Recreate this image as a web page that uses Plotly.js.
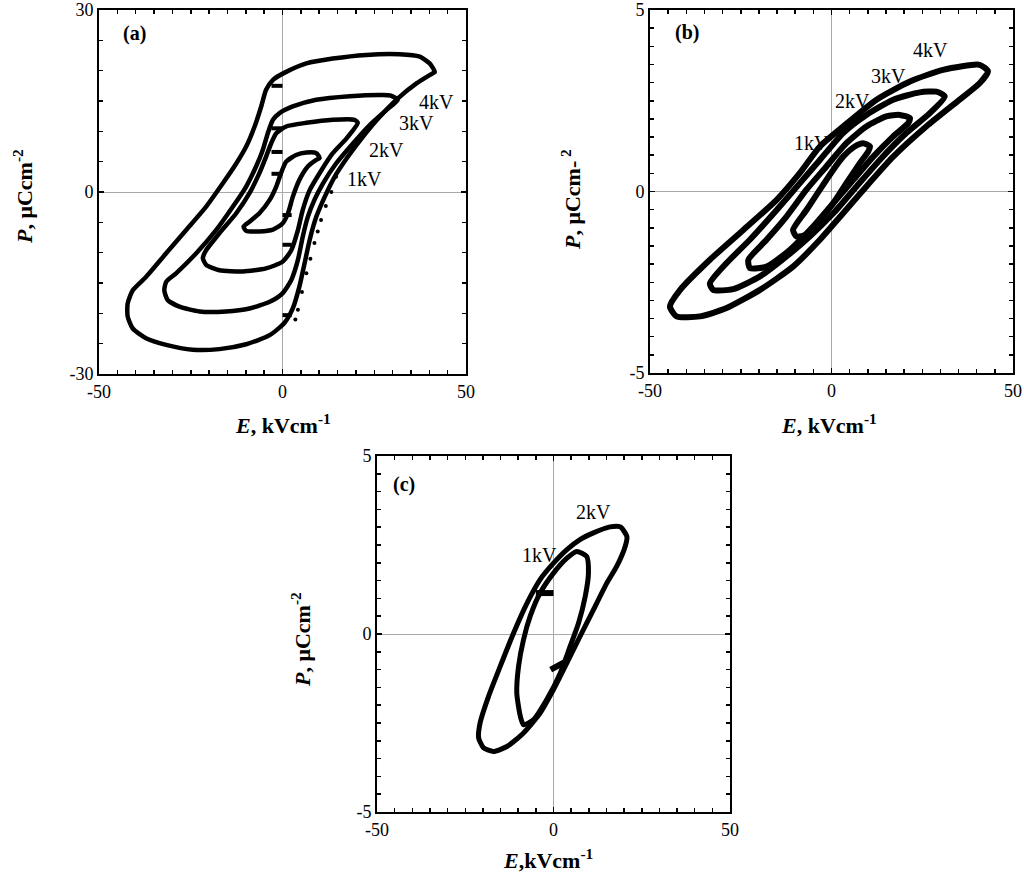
<!DOCTYPE html>
<html>
<head>
<meta charset="utf-8">
<script src="https://cdn.plot.ly/plotly-3.0.1.min.js"></script>
<style>html,body{margin:0;padding:0;background:#fff;}#chart{width:1024px;height:876px;}</style>
</head>
<body>
<div id="chart"></div>
<script>
// ---------- Panel (a) data: E (kV/cm), P (uC/cm^2) ----------
const a4E = [41.5,40.1,37.4,31.9,22.8,13.7,6.5,1.0,-2.6,-4.5,-5.8,-7.6,-9.9,-12.6,-16.3,-20.8,-26.3,-31.7,-37.2,-40.8,-42.2,-42.2,-40.8,-37.2,-31.7,-24.5,-17.2,-9.9,-3.5,0.5,2.8,4.6,6.0,7.4,9.2,11.5,14.2,17.8,21.9,26.5,31.0,36.5,41.0,41.5];
const a4P = [19.8,21.2,22.3,22.7,22.6,22.0,21.2,19.8,18.5,16.8,14.1,10.8,7.5,4.7,1.4,-2.4,-6.3,-10.1,-14.0,-16.2,-18.4,-20.5,-22.5,-24.1,-25.2,-26.0,-25.9,-25.1,-23.6,-21.6,-19.2,-15.6,-11.8,-7.9,-4.1,-0.8,2.5,5.8,9.1,12.4,15.2,17.9,19.6,19.8];
const a3E = [31.4,29.5,27.4,18.3,9.2,2.8,-0.8,-2.6,-4.0,-5.4,-7.2,-9.9,-13.5,-18.1,-23.5,-29.0,-31.7,-32.2,-31.3,-28.1,-22.6,-15.4,-9.0,-3.5,0,2.4,4.2,5.5,6.9,8.7,11.0,14.6,19.2,23.7,28.3,31.4];
const a3P = [15.2,15.9,16.0,15.8,15.2,14.1,13.0,11.9,9.7,6.9,4.2,0.9,-2.4,-6.3,-10.1,-13.4,-14.8,-16.2,-17.8,-18.9,-19.7,-19.7,-19.2,-18.1,-16.7,-14.5,-11.2,-7.4,-4.1,-1.3,1.4,4.7,8.0,11.0,13.5,15.2];
const a2E = [20.5,19.6,13.7,6.5,1.0,-1.7,-3.1,-4.5,-6.3,-9.0,-12.6,-17.2,-20.8,-21.7,-20.8,-17.2,-10.8,-4.5,0,2.4,4.2,5.5,7.4,10.1,13.7,17.4,20.5];
const a2P = [11.4,11.9,11.9,11.4,10.8,9.7,8.0,5.8,3.1,-0.2,-3.5,-6.8,-9.6,-10.9,-12.0,-12.9,-13.1,-12.6,-11.5,-9.6,-6.3,-3.0,0.3,3.1,6.4,8.8,11.4];
const a1E = [10.1,9.2,6.5,3.7,1.0,-0.4,-1.7,-3.5,-6.3,-9.0,-10.6,-9.9,-6.3,-2.6,0,1.5,2.8,4.6,6.9,9.2,10.1];
const a1P = [5.6,6.4,6.5,6.1,5.0,3.1,0.9,-1.3,-3.5,-4.9,-5.7,-6.4,-6.5,-6.2,-5.2,-3.5,-0.8,2.0,4.2,5.3,5.6];
// sparse dotted branch (first ascending sweep)
const aDotE = [3.5,4.2,5.3,6.5,7.6,8.7,9.6,10.5,11.8,13.3,14.6];
const aDotP = [-21.0,-19.4,-16.5,-13.4,-11.0,-8.4,-6.5,-4.6,-2.3,0.0,2.5];
// short start segments at E = 0
const aStubUpperE = [-3.0, 0];
const aStubUpperP = [17.5, 10.5, 6.6, 3.0];
const aStubLowerE = [0, 2.5];
const aStubLowerP = [-3.8, -8.7, -20.3];

// ---------- Panel (b) data ----------
const b4E = [43.1,40.8,30.7,21.6,12.4,3.2,-3.2,-8.7,-15.1,-24.3,-33.5,-41.7,-44.5,-42.7,-36.2,-28.9,-19.7,-10.6,-3.2,3.2,9.6,17.0,26.1,35.3,40.8,43.1];
const b4P = [3.31,3.49,3.35,3.03,2.53,1.79,1.24,0.51,-0.23,-1.06,-1.88,-2.71,-3.17,-3.44,-3.44,-3.21,-2.71,-2.07,-1.33,-0.60,0.14,0.96,1.79,2.53,2.98,3.31];
const b3E = [31.2,28.9,24.3,17.0,9.6,3.2,-3.2,-8.7,-15.1,-22.5,-28.9,-33.5,-32.6,-27.1,-19.7,-12.4,-6.0,0.5,6.9,13.3,20.6,27.1,31.2];
const b3P = [2.62,2.75,2.73,2.53,2.11,1.61,0.87,0.23,-0.51,-1.33,-1.97,-2.53,-2.71,-2.69,-2.34,-1.79,-1.24,-0.60,0.14,0.87,1.61,2.16,2.62];
const b2E = [21.6,18.8,15.1,9.6,4.1,-1.4,-6.9,-12.4,-17.9,-22.9,-22.5,-17.9,-11.5,-5.0,0.5,6.0,11.5,17.0,21.1,21.6];
const b2P = [2.02,2.11,2.07,1.79,1.33,0.69,0.05,-0.69,-1.33,-1.88,-2.11,-2.07,-1.61,-0.96,-0.32,0.32,0.96,1.52,1.88,2.02];
const b1E = [10.6,8.7,6.4,3.2,0.5,-3.2,-6.9,-10.6,-9.6,-6.9,-3.2,0.5,4.1,7.8,10.1,10.6];
const b1P = [1.24,1.33,1.24,0.96,0.60,0.05,-0.51,-1.06,-1.24,-1.19,-0.78,-0.32,0.23,0.78,1.10,1.24];

// ---------- Panel (c) data ----------
const c2E = [20.8,18.9,16.0,11.3,7.5,3.8,0,-3.8,-7.5,-11.3,-15.1,-18.4,-20.8,-21.2,-19.8,-17.0,-13.2,-8.5,-3.8,0,3.8,7.5,11.3,15.1,17.9,20.3,20.8];
const c2P = [2.74,3.01,3.01,2.84,2.65,2.37,1.99,1.53,0.87,0.03,-0.91,-1.75,-2.50,-2.92,-3.20,-3.30,-3.16,-2.78,-2.22,-1.56,-0.81,-0.07,0.68,1.43,1.90,2.46,2.74];
const c1E = [6.6,9.4,9.9,9.0,7.1,4.7,1.9,-1.9,-5.7,-8.5,-9.4,-10.4,-9.9,-8.5,-6.6,-3.8,0,3.8,6.6];
const c1P = [2.32,2.18,1.71,1.06,0.31,-0.35,-1.10,-1.84,-2.41,-2.55,-2.31,-1.66,-0.91,-0.16,0.50,1.15,1.71,2.13,2.32];
const cStub1E = [-5.0, 0];
const cStub1P = [1.15, 1.15];
const cStub2E = [-0.8, 3.0];
const cStub2P = [-1.0, -0.8];

// ---------- Ticks ----------
const xTickVals = [-50, 0, 50];
const xTickText = ['-50', '0', '50'];
const xMinorStep = 5;
const yTickValsA = [-30, 0, 30];
const yTickTextA = ['-30', '0', '30'];
const yMinorStepA = 5;
const yTickValsBC = [-5, 0, 5];
const yTickTextBC = ['-5', '0', '5'];
const yMinorStepBC = 0.5;

// ---------- Curve labels ----------
const aLabels = ['4kV','3kV','2kV','1kV'];
const aLabelE = [42.0, 36.6, 28.4, 22.4];
const aLabelP = [14.8, 11.4, 6.9, 2.2];
const bLabels = ['4kV','3kV','2kV','1kV'];
const bLabelE = [27.2, 15.6, 5.9, -5.4];
const bLabelP = [3.90, 3.18, 2.48, 1.34];
const cLabels = ['2kV','1kV'];
const cLabelE = [11.2, -4.0];
const cLabelP = [3.42, 2.22];

const FONT = 'Liberation Serif';

const traces = [];
function loop(x, y, ax, w){
  traces.push({x:x, y:y, xaxis:'x'+ax, yaxis:'y'+ax, type:'scatter', mode:'lines',
    line:{color:'#000', width:w, shape:'spline', smoothing:0.6}, hoverinfo:'skip', showlegend:false});
}
loop(a4E,a4P,'',4.5); loop(a3E,a3P,'',4.5); loop(a2E,a2P,'',4.5); loop(a1E,a1P,'',4.5);
traces.push({x:aDotE, y:aDotP, xaxis:'x', yaxis:'y', type:'scatter', mode:'markers',
  marker:{color:'#000', size:4}, hoverinfo:'skip', showlegend:false});
aStubUpperP.forEach(p => traces.push({x:aStubUpperE, y:[p,p], xaxis:'x', yaxis:'y', type:'scatter', mode:'lines', line:{color:'#000', width:4}, hoverinfo:'skip', showlegend:false}));
aStubLowerP.forEach(p => traces.push({x:aStubLowerE, y:[p,p], xaxis:'x', yaxis:'y', type:'scatter', mode:'lines', line:{color:'#000', width:4}, hoverinfo:'skip', showlegend:false}));

loop(b4E,b4P,'2',6); loop(b3E,b3P,'2',6); loop(b2E,b2P,'2',6); loop(b1E,b1P,'2',6);

loop(c2E,c2P,'3',5); loop(c1E,c1P,'3',5);
traces.push({x:cStub1E, y:cStub1P, xaxis:'x3', yaxis:'y3', type:'scatter', mode:'lines', line:{color:'#000', width:6}, hoverinfo:'skip', showlegend:false});
traces.push({x:cStub2E, y:cStub2P, xaxis:'x3', yaxis:'y3', type:'scatter', mode:'lines', line:{color:'#000', width:6}, hoverinfo:'skip', showlegend:false});

function axis(domain, range, vals, text, minorStep, anchor){
  return {domain:domain, range:range, anchor:anchor, tickmode:'array', tickvals:vals, ticktext:text,
    ticks:'inside', ticklen:5, tickwidth:1.5, tickcolor:'#000',
    minor:{dtick:minorStep, tick0:0, ticks:'inside', ticklen:4, tickwidth:1.5, tickcolor:'#000', showgrid:false},
    showline:true, linecolor:'#000', linewidth:2,
    mirror:'ticks', showgrid:false, zeroline:true, zerolinecolor:'#aaaaaa', zerolinewidth:1,
    tickfont:{family:FONT, size:18, color:'#000'}, automargin:false, fixedrange:true};
}

const W = 1024, H = 876;
const px = v => v / W, py = v => 1 - v / H;

const annotations = [];
function ann(xp, yp, text, size, extra){
  annotations.push(Object.assign({xref:'paper', yref:'paper', x:px(xp), y:py(yp), text:text, showarrow:false,
    xanchor:'center', yanchor:'middle', font:{family:FONT, size:size, color:'#000'}}, extra||{}));
}
// axis titles
ann(283, 424, '<b><i>E</i>, kVcm<sup>-1</sup></b>', 22);
ann(23, 197, '<b><i>P</i>, μCcm<sup>-2</sup></b>', 22, {textangle:-90});
ann(829, 424, '<b><i>E</i>, kVcm<sup>-1</sup></b>', 22);
ann(571, 200, '<b><i>P</i>, μCcm-<sup> 2</sup></b>', 22, {textangle:-90});
ann(548, 859, '<b><i>E</i>,kVcm<sup>-1</sup></b>', 22);
ann(301, 640, '<b><i>P</i>, μCcm<sup>-2</sup></b>', 22, {textangle:-90});
// panel letters
ann(134, 34, '<b>(a)</b>', 20);
ann(687, 32, '<b>(b)</b>', 20);
ann(404, 485, '<b>(c)</b>', 20);
// curve labels (data coords)
aLabels.forEach((t,i) => annotations.push({xref:'x', yref:'y', x:aLabelE[i], y:aLabelP[i], text:t, showarrow:false, font:{family:FONT, size:20, color:'#000'}}));
bLabels.forEach((t,i) => annotations.push({xref:'x2', yref:'y2', x:bLabelE[i], y:bLabelP[i], text:t, showarrow:false, font:{family:FONT, size:20, color:'#000'}}));
cLabels.forEach((t,i) => annotations.push({xref:'x3', yref:'y3', x:cLabelE[i], y:cLabelP[i], text:t, showarrow:false, font:{family:FONT, size:20, color:'#000'}}));

const layout = {
  width:W, height:H, margin:{l:0, r:0, t:0, b:0}, paper_bgcolor:'#fff', plot_bgcolor:'#fff', showlegend:false,
  font:{family:FONT, color:'#000'},
  xaxis: axis([px(99), px(466)], [-50,50], xTickVals, xTickText, xMinorStep, 'y'),
  yaxis: axis([py(374), py(10)], [-30,30], yTickValsA, yTickTextA, yMinorStepA, 'x'),
  xaxis2: axis([px(650), px(1013)], [-50,50], xTickVals, xTickText, xMinorStep, 'y2'),
  yaxis2: axis([py(373), py(10)], [-5,5], yTickValsBC, yTickTextBC, yMinorStepBC, 'x2'),
  xaxis3: axis([px(377), px(730)], [-50,50], xTickVals, xTickText, xMinorStep, 'y3'),
  yaxis3: axis([py(812), py(456)], [-5,5], yTickValsBC, yTickTextBC, yMinorStepBC, 'x3'),
  annotations: annotations
};

Plotly.newPlot('chart', traces, layout, {staticPlot:true, displayModeBar:false});
</script>
</body>
</html>
